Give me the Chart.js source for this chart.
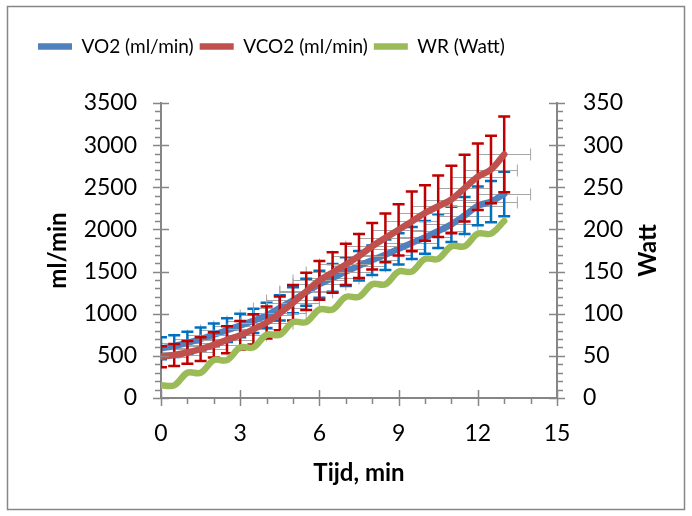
<!DOCTYPE html>
<html>
<head>
<meta charset="utf-8">
<script src="https://cdn.jsdelivr.net/npm/chart.js@4.4.1/dist/chart.umd.min.js"></script>
<style>
  html, body { margin: 0; padding: 0; background: #fff; }
</style>
</head>
<body>
<canvas id="chart" width="692" height="516"></canvas>
<script>
// time points (min)
const tijd = [0, 0.5, 1, 1.5, 2, 2.5, 3, 3.5, 4, 4.5, 5, 5.5, 6, 6.5, 7, 7.5, 8, 8.5, 9, 9.5, 10, 10.5, 11, 11.5, 12, 12.5, 13];
const tijdErr = 1; // +/- min, grey horizontal error bars

const vo2 = [590, 615, 655, 700, 750, 805, 860, 915, 980, 1070, 1160, 1255, 1350, 1425, 1500, 1570, 1635, 1700, 1770, 1840, 1905, 1980, 2060, 2165, 2280, 2330, 2420];
const vo2Err = [130, 130, 130, 135, 135, 140, 140, 145, 150, 150, 155, 160, 160, 165, 170, 175, 175, 180, 185, 190, 195, 200, 210, 220, 230, 245, 265];

const vco2 = [490, 510, 540, 580, 630, 690, 745, 815, 895, 1005, 1130, 1265, 1395, 1490, 1585, 1685, 1800, 1900, 1995, 2095, 2195, 2275, 2355, 2490, 2625, 2710, 2890];
const vco2Err = [125, 130, 135, 140, 150, 160, 170, 180, 190, 200, 210, 220, 230, 240, 245, 260, 275, 290, 305, 355, 330, 365, 400, 395, 395, 400, 450];

const wr = [15, 15, 30, 30, 45, 45, 60, 60, 75, 75, 90, 90, 105, 105, 120, 120, 135, 135, 150, 150, 165, 165, 180, 180, 195, 195, 210];

// axis ticks
const xTicks = [0, 3, 6, 9, 12, 15];
const mlTicks = [0, 500, 1000, 1500, 2000, 2500, 3000, 3500];
const wattTicks = [0, 50, 100, 150, 200, 250, 300, 350];
const xMinor = 1, mlMinor = 100, wattMinor = 10;

// plot box, px
const PLOT = { left: 161, right: 557, top: 103, bottom: 398 };
const W = 692, H = 516;
const PAD_LEFT = 32;
const AXIS = '#868686';

Chart.defaults.font.family = 'Lato';
Chart.defaults.color = '#000';

function sideTitle(ctx, text, x, y) {
    ctx.save();
    ctx.fillStyle = '#000';
    ctx.font = 'bold 24px Lato';
    ctx.textAlign = 'center';
    ctx.textBaseline = 'middle';
    ctx.translate(x, y);
    ctx.rotate(-Math.PI / 2);
    ctx.fillText(text, 0, 0);
    ctx.restore();
}

const errorBars = {
    id: 'errorBars',
    beforeDatasetDraw(chart, args) {
        let vals, errs, col;
        if (args.index === 0) { vals = vo2; errs = vo2Err; col = '#0070C0'; }
        else if (args.index === 1) { vals = vco2; errs = vco2Err; col = '#C00000'; }
        else return;
        const { ctx, chartArea: a } = chart;
        const x = chart.scales.x, y = chart.scales.y;
        ctx.save();
        ctx.beginPath();
        ctx.rect(a.left, a.top, a.right - a.left, a.bottom - a.top);
        ctx.clip();
        // horizontal (time) error bars
        ctx.strokeStyle = '#A6A6A6';
        ctx.lineWidth = 1;
        ctx.beginPath();
        tijd.forEach((t, i) => {
            const py = Math.round(y.getPixelForValue(vals[i])) + 0.5;
            const x0 = x.getPixelForValue(t - tijdErr), x1 = x.getPixelForValue(t + tijdErr);
            ctx.moveTo(x0, py); ctx.lineTo(x1, py);
            ctx.moveTo(x0, py - 6); ctx.lineTo(x0, py + 6);
            ctx.moveTo(x1, py - 6); ctx.lineTo(x1, py + 6);
        });
        ctx.stroke();
        // vertical error bars
        ctx.strokeStyle = col;
        ctx.lineWidth = 2.5;
        ctx.beginPath();
        tijd.forEach((t, i) => {
            const px = x.getPixelForValue(t);
            const y0 = y.getPixelForValue(vals[i] - errs[i]), y1 = y.getPixelForValue(vals[i] + errs[i]);
            ctx.moveTo(px, y0); ctx.lineTo(px, y1);
            ctx.moveTo(px - 6, y0); ctx.lineTo(px + 6, y0);
            ctx.moveTo(px - 6, y1); ctx.lineTo(px + 6, y1);
        });
        ctx.stroke();
        ctx.restore();
    },
    afterDraw(chart) {
        const { ctx, chartArea: a } = chart;
        const { x, y, y1 } = chart.scales;
        ctx.save();
        ctx.strokeStyle = AXIS;
        ctx.lineWidth = 1.5;
        ctx.beginPath();
        // left axis: major cross, minor outside
        const mlMax = mlTicks[mlTicks.length - 1];
        for (let v = 0; v <= mlMax; v += mlMinor) {
            const p = Math.round(y.getPixelForValue(v)) + 0.5;
            if (v % (mlTicks[1] - mlTicks[0]) === 0) { ctx.moveTo(a.left - 8, p); ctx.lineTo(a.left + 8, p); }
            else { ctx.moveTo(a.left - 6, p); ctx.lineTo(a.left, p); }
        }
        // right axis
        const wMax = wattTicks[wattTicks.length - 1];
        for (let v = 0; v <= wMax; v += wattMinor) {
            const p = Math.round(y1.getPixelForValue(v)) + 0.5;
            if (v % (wattTicks[1] - wattTicks[0]) === 0) { ctx.moveTo(a.right - 8, p); ctx.lineTo(a.right + 8, p); }
            else { ctx.moveTo(a.right, p); ctx.lineTo(a.right + 6, p); }
        }
        // x axis
        const xMax = xTicks[xTicks.length - 1];
        for (let v = 0; v <= xMax; v += xMinor) {
            const p = Math.round(x.getPixelForValue(v)) + 0.5;
            if (v % (xTicks[1] - xTicks[0]) === 0) { ctx.moveTo(p, a.bottom - 8); ctx.lineTo(p, a.bottom + 8); }
            else { ctx.moveTo(p, a.bottom); ctx.lineTo(p, a.bottom + 6); }
        }
        ctx.stroke();

        // chart frame
        ctx.lineWidth = 1.5;
        ctx.strokeRect(7.5, 6.5, W - 15, H - 13);
        ctx.restore();

        // vertical axis titles, both read bottom to top
        const midY = (a.top + a.bottom) / 2;
        sideTitle(ctx, 'ml/min', 58, midY);
        sideTitle(ctx, 'Watt', 648, midY);
    }
};

const line = (label, data, color, axis, order) => ({
    label, data: tijd.map((t, i) => ({ x: t, y: data[i] })),
    borderColor: color, backgroundColor: color,
    borderWidth: 6.5, borderCapStyle: 'round', borderJoinStyle: 'round',
    pointRadius: 0, tension: 0.35, yAxisID: axis, order
});

const tickFont = { size: 23 };
const plain = v => String(v);

const chart = new Chart(document.getElementById('chart'), {
    type: 'line',
    data: {
        datasets: [
            line('VO2 (ml/min)', vo2, '#4F81BD', 'y', 3),
            line('VCO2 (ml/min)', vco2, '#C0504D', 'y', 2),
            line('WR (Watt)', wr, '#9BBB59', 'y1', 1)
        ]
    },
    options: {
        responsive: false,
        animation: false,
        layout: { padding: { top: 31, left: PAD_LEFT, right: 0, bottom: 0 } },
        plugins: {
            legend: {
                position: 'top',
                align: 'start',
                labels: {
                    usePointStyle: true,
                    pointStyle: 'line',
                    pointStyleWidth: 34,
                    padding: 6,
                    font: { size: 19 },
                    sort: (a, b) => a.datasetIndex - b.datasetIndex
                }
            },
            // empty spacer between legend and plot
            title: { display: true, text: '', weight: 500, font: { size: 1 }, padding: { top: 0, bottom: 30 } },
            tooltip: { enabled: false }
        },
        scales: {
            x: {
                type: 'linear',
                min: xTicks[0], max: xTicks[xTicks.length - 1],
                afterBuildTicks: s => { s.ticks = xTicks.map(v => ({ value: v })); },
                afterFit: s => { s.height = H - PLOT.bottom; },
                grid: { display: false, drawTicks: false },
                border: { display: true, color: AXIS, width: 2 },
                ticks: { font: tickFont, padding: 22, callback: plain },
                title: { display: true, text: 'Tijd, min', font: { size: 24, weight: 'bold' }, padding: { top: 0, bottom: 28 } }
            },
            y: {
                position: 'left',
                min: mlTicks[0], max: mlTicks[mlTicks.length - 1],
                afterBuildTicks: s => { s.ticks = mlTicks.map(v => ({ value: v })); },
                afterFit: s => { s.width = PLOT.left - PAD_LEFT; },
                grid: { display: false, drawTicks: false },
                border: { display: true, color: AXIS, width: 2 },
                ticks: { font: tickFont, padding: 24, callback: plain }
            },
            y1: {
                position: 'right',
                min: wattTicks[0], max: wattTicks[wattTicks.length - 1],
                afterBuildTicks: s => { s.ticks = wattTicks.map(v => ({ value: v })); },
                afterFit: s => { s.width = W - PLOT.right; },
                grid: { display: false, drawTicks: false },
                border: { display: true, color: AXIS, width: 2 },
                ticks: { font: tickFont, padding: 26, callback: plain }
            }
        }
    },
    plugins: [errorBars]
});

// pull the plot top onto the reference position
const dy = PLOT.top - chart.chartArea.top;
if (dy !== 0) {
    chart.options.plugins.title.padding = { top: 0, bottom: 30 + dy };
    chart.update();
}
</script>
</body>
</html>
